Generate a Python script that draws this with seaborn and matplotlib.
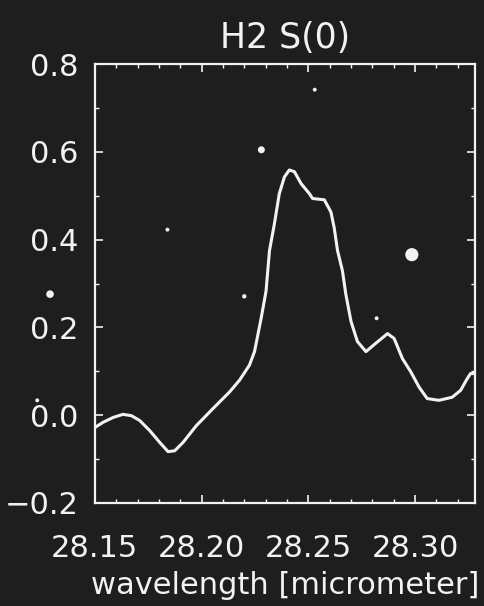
import matplotlib
matplotlib.use("Agg")
import matplotlib.pyplot as plt
import seaborn as sns
import pandas as pd
from matplotlib.ticker import MultipleLocator

# --- data ---
wavelength = [28.1500, 28.1539, 28.1586, 28.1632, 28.1671, 28.1710, 28.1757, 28.1804,
              28.1843, 28.1874, 28.1913, 28.1975, 28.2053, 28.2131, 28.2178, 28.2224,
              28.2248, 28.2279, 28.2302, 28.2318, 28.2341, 28.2364, 28.2388, 28.2411,
              28.2435, 28.2466, 28.2505, 28.2520, 28.2575, 28.2606, 28.2621, 28.2637,
              28.2660, 28.2676, 28.2700, 28.2730, 28.2770, 28.2816, 28.2871, 28.2902,
              28.2941, 28.2980, 28.3019, 28.3057, 28.3112, 28.3174, 28.3214, 28.3244,
              28.3260, 28.3284]
flux = [-0.028, -0.016, -0.005, 0.002, -0.001, -0.012, -0.035, -0.062,
        -0.083, -0.081, -0.062, -0.024, 0.015, 0.053, 0.080, 0.114,
        0.145, 0.221, 0.283, 0.375, 0.436, 0.505, 0.543, 0.559,
        0.555, 0.528, 0.505, 0.494, 0.491, 0.463, 0.428, 0.375,
        0.329, 0.275, 0.214, 0.168, 0.145, 0.164, 0.186, 0.175,
        0.129, 0.099, 0.064, 0.038, 0.034, 0.041, 0.057, 0.083,
        0.095, 0.095]
title = "H2 S(0)"
xlabel = "wavelength [micrometer]"
xticks = [28.15, 28.20, 28.25, 28.30]
xticklabels = ["28.15", "28.20", "28.25", "28.30"]
yticks = [-0.2, 0.0, 0.2, 0.4, 0.6, 0.8]
yticklabels = ["\u22120.2", "0.0", "0.2", "0.4", "0.6", "0.8"]
# scan specks visible in the reference (x, y, size)
speck_x = [28.228, 28.253, 28.184, 28.220, 28.2985, 28.282, 28.129, 28.123]
speck_y = [0.605, 0.742, 0.423, 0.271, 0.366, 0.221, 0.276, 0.034]
speck_s = [25, 8, 8, 10, 90, 8, 30, 8]

bg = "#1e1e1e"
fg = "#f2f2f2"

sns.set_theme(style="ticks")
plt.rcParams["font.family"] = ["DejaVu Sans"]
plt.rcParams["axes.facecolor"] = bg
plt.rcParams["figure.facecolor"] = bg

fig = plt.figure(figsize=(4.84, 6.06), dpi=100)
ax = fig.add_axes([0.196, 0.170, 0.785, 0.724])
ax.set_facecolor(bg)

df = pd.DataFrame({"wavelength": wavelength, "flux": flux})
sns.lineplot(data=df, x="wavelength", y="flux", ax=ax, color=fg, linewidth=2.2)

sp = pd.DataFrame({"x": speck_x, "y": speck_y, "s": speck_s})
ax.scatter(sp["x"], sp["y"], s=sp["s"], color=fg, linewidths=0, clip_on=False, zorder=3)

ax.set_xlim(28.15, 28.328)
ax.set_ylim(-0.2, 0.8)
ax.set_xticks(xticks)
ax.set_xticklabels(xticklabels)
ax.set_yticks(yticks)
ax.set_yticklabels(yticklabels)
ax.xaxis.set_minor_locator(MultipleLocator(0.01))
ax.yaxis.set_minor_locator(MultipleLocator(0.1))

for s in ax.spines.values():
    s.set_visible(True)
    s.set_color(fg)
    s.set_linewidth(1.6)

ax.tick_params(axis="both", which="major", direction="in", length=6, width=1.2,
               color=fg, labelcolor=fg, labelsize=22, top=True, right=True)
ax.tick_params(axis="both", which="minor", direction="in", length=3, width=1.0,
               color=fg, top=True, right=True)
ax.tick_params(axis="x", which="major", pad=22)
ax.tick_params(axis="y", which="major", pad=12)

ax.set_xlabel(xlabel, color=fg, fontsize=22, labelpad=6)
ax.set_ylabel("")
ax.set_title(title, color=fg, fontsize=25, pad=12)

fig.savefig("out.png", dpi=100, facecolor=bg)
